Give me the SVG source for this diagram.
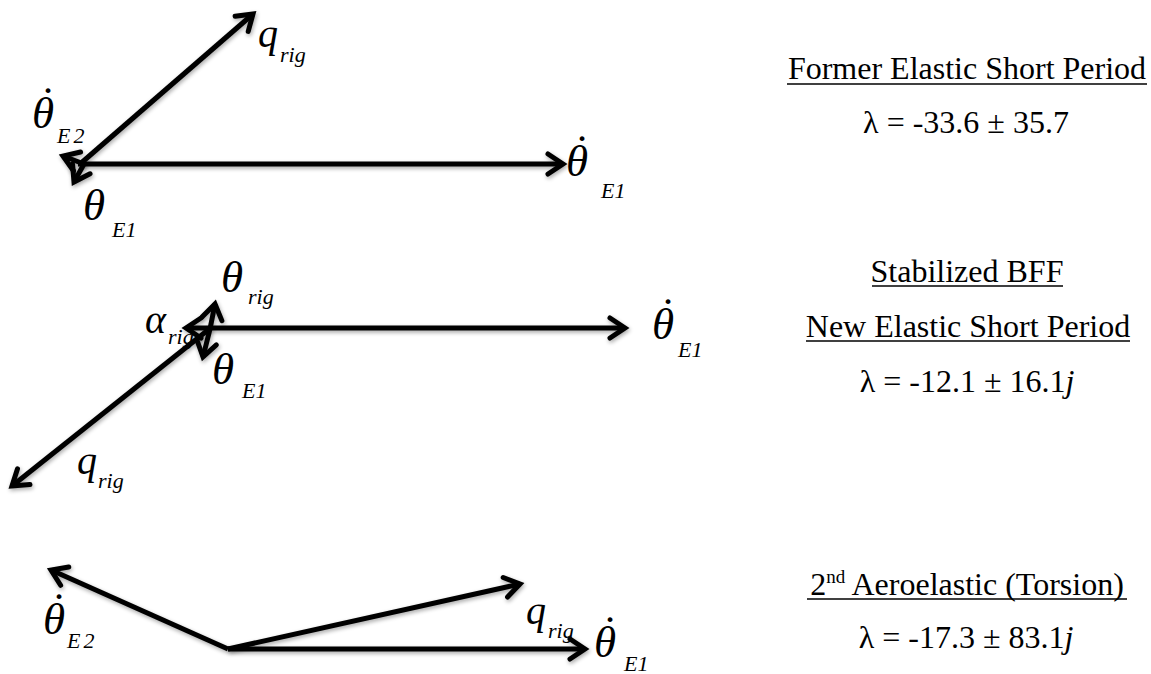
<svg xmlns="http://www.w3.org/2000/svg" width="1151" height="674" viewBox="0 0 1151 674">
  <style>
    .cap { font-family: "Liberation Serif", "DejaVu Serif", "Times New Roman", serif; font-size: 32px; fill: #000; text-anchor: middle; }
    .ul { stroke: #000; stroke-width: 1.6; }
    .m { font-family: "Liberation Serif", "DejaVu Serif", "Times New Roman", serif; font-style: italic; fill: #000; }
    .big { font-size: 45px; }
    .q { font-size: 40px; }
    .al { font-size: 40px; }
    .sub { font-size: 22px; }
    .sp { letter-spacing: 3px; }
    .dot { font-family: "Liberation Serif", "DejaVu Serif", serif; font-size: 45px; text-anchor: middle; fill: #000; }
    .ar { stroke: #000; stroke-width: 5; fill: none; marker-end: url(#head); filter: url(#sh); }
  </style>
  <defs>
    <marker id="head" viewBox="-20 -14 26 28" refX="0" refY="0" markerWidth="26" markerHeight="28" markerUnits="userSpaceOnUse" orient="auto">
      <path d="M-15,-10 L0,0 L-15,10" fill="none" stroke="#000" stroke-width="5" stroke-linecap="round"/>
    </marker>
    <filter id="sh" filterUnits="userSpaceOnUse" x="0" y="0" width="1151" height="674">
      <feGaussianBlur in="SourceAlpha" stdDeviation="2"/>
      <feOffset dx="1" dy="2" result="b"/>
      <feComponentTransfer><feFuncA type="linear" slope="0.35"/></feComponentTransfer>
      <feMerge><feMergeNode/><feMergeNode in="SourceGraphic"/></feMerge>
    </filter>
  </defs>

  <g id="connectors">
    <!-- diagram 1 -->
    <line class="ar" x1="78" y1="164" x2="563" y2="164"/>
    <line class="ar" x1="80" y1="164" x2="253" y2="14"/>
    <line class="ar" x1="84" y1="164" x2="63" y2="156"/>
    <line class="ar" x1="84" y1="164" x2="74" y2="182"/>
    <!-- diagram 2 -->
    <line class="ar" x1="210" y1="328" x2="625" y2="328"/>
    <line class="ar" x1="210" y1="328" x2="186" y2="328"/>
    <line class="ar" x1="210" y1="329" x2="215" y2="304"/>
    <line class="ar" x1="210" y1="329" x2="203" y2="357"/>
    <line class="ar" x1="208" y1="330" x2="12" y2="486"/>
    <!-- diagram 3 -->
    <line class="ar" x1="228" y1="649" x2="585" y2="649"/>
    <line class="ar" x1="228" y1="649" x2="520" y2="584"/>
    <line class="ar" x1="228" y1="649" x2="51" y2="570"/>
  </g>

  <g id="diagram1-labels">
    <g id="d1-qrig"><text class="m q" x="258" y="47">q</text><text class="m sub" x="280" y="62">rig</text></g>
    <g id="d1-thetadotE2"><text class="m big" x="32" y="128">θ</text><text class="dot" x="48" y="118">˙</text><text class="m sub sp" x="57" y="143">E2</text></g>
    <g id="d1-thetaE1"><text class="m big" x="83" y="220">θ</text><text class="m sub" x="112" y="237">E1</text></g>
    <g id="d1-thetadotE1"><text class="m big" x="566" y="176">θ</text><text class="dot" x="582" y="166">˙</text><text class="m sub" x="601" y="198">E1</text></g>
  </g>

  <g id="diagram2-labels">
    <g id="d2-thetarig"><text class="m big" x="221" y="292">θ</text><text class="m sub" x="248" y="304">rig</text></g>
    <g id="d2-alpharig"><text class="m al" x="145" y="333">α</text><text class="m sub" x="168" y="344">rig</text></g>
    <g id="d2-thetaE1"><text class="m big" x="212" y="384">θ</text><text class="m sub" x="242" y="398">E1</text></g>
    <g id="d2-thetadotE1"><text class="m big" x="652" y="339">θ</text><text class="dot" x="668" y="329">˙</text><text class="m sub" x="678" y="357">E1</text></g>
    <g id="d2-qrig"><text class="m q" x="77" y="474">q</text><text class="m sub" x="98" y="488">rig</text></g>
  </g>

  <g id="diagram3-labels">
    <g id="d3-thetadotE2"><text class="m big" x="43" y="634">θ</text><text class="dot" x="59" y="624">˙</text><text class="m sub sp" x="67" y="648">E2</text></g>
    <g id="d3-qrig"><text class="m q" x="526" y="624">q</text><text class="m sub" x="548" y="638">rig</text></g>
    <g id="d3-thetadotE1"><text class="m big" x="594" y="657">θ</text><text class="dot" x="610" y="647">˙</text><text class="m sub" x="624" y="671">E1</text></g>
  </g>

  <g id="caption1">
    <text class="cap" x="967" y="79">Former Elastic Short Period</text>
    <line class="ul" x1="787" y1="84" x2="1147" y2="84"/>
    <text class="cap" x="966" y="133">λ = -33.6 ± 35.7</text>
  </g>
  <g id="caption2">
    <text class="cap" x="967" y="282">Stabilized BFF</text>
    <line class="ul" x1="872" y1="286" x2="1063" y2="286"/>
    <text class="cap" x="968" y="337">New Elastic Short Period</text>
    <line class="ul" x1="806" y1="341" x2="1130" y2="341"/>
    <text class="cap" x="967" y="392">λ = -12.1 ± 16.1<tspan font-style="italic">j</tspan></text>
  </g>
  <g id="caption3">
    <text class="cap" x="967" y="595">2<tspan font-size="19" dy="-12">nd</tspan><tspan dy="12"> Aeroelastic (Torsion)</tspan></text>
    <line class="ul" x1="807" y1="599" x2="1127" y2="599"/>
    <text class="cap" x="966" y="648">λ = -17.3 ± 83.1<tspan font-style="italic">j</tspan></text>
  </g>
</svg>
